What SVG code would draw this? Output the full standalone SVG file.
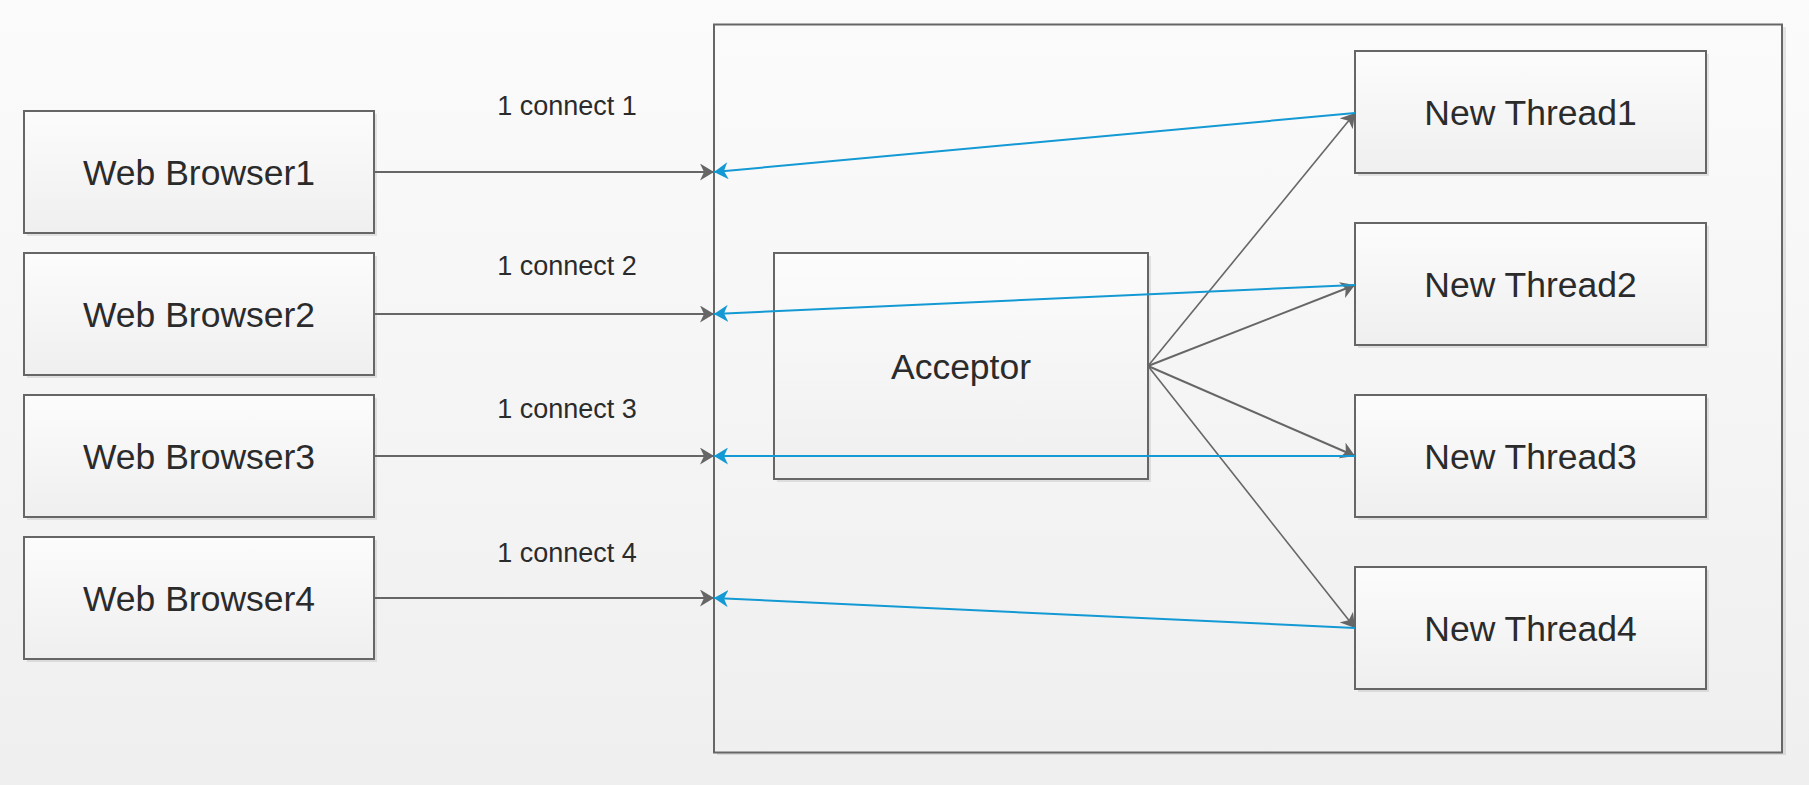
<svg xmlns="http://www.w3.org/2000/svg" width="1809" height="785" viewBox="0 0 1809 785">
  <defs>
    <linearGradient id="bg" x1="0" y1="0" x2="0" y2="1">
      <stop offset="0" stop-color="#fbfbfb"/>
      <stop offset="1" stop-color="#efefef"/>
    </linearGradient>
    <linearGradient id="boxfill" x1="0" y1="0" x2="0" y2="1">
      <stop offset="0" stop-color="#fcfcfc"/>
      <stop offset="1" stop-color="#efefef"/>
    </linearGradient>
    <marker id="ag" markerUnits="userSpaceOnUse" viewBox="0 0 14 17" refX="14" refY="8.5" markerWidth="14" markerHeight="17" orient="auto">
      <path d="M0,0 L14,8.5 L0,17 L4,8.5 Z" fill="#666666"/>
    </marker>
    <marker id="ab" markerUnits="userSpaceOnUse" viewBox="0 0 14 17" refX="14" refY="8.5" markerWidth="14" markerHeight="17" orient="auto">
      <path d="M0,0 L14,8.5 L0,17 L4,8.5 Z" fill="#1399d3"/>
    </marker>
  </defs>
  <style>
    .box { fill: url(#boxfill); stroke: #666666; stroke-width: 2; }
    .shadow { fill: #000000; opacity: 0.09; }
    .node { font-family: "Liberation Sans", Arial, sans-serif; font-size: 35.5px; fill: #2b2b2b; text-anchor: middle; }
    .lbl { font-family: "Liberation Sans", Arial, sans-serif; font-size: 27px; fill: #2b2b2b; text-anchor: middle; }
    .g { fill: none; stroke: #666666; stroke-width: 2; marker-end: url(#ag); }
    .gt { fill: none; stroke: #666666; stroke-width: 1.6; marker-end: url(#ag); }
    .b { fill: none; stroke: #1399d3; stroke-width: 2; marker-end: url(#ab); }
  </style>
  <rect x="0" y="0" width="1809" height="785" fill="url(#bg)"/>

  <g id="container">
    <rect class="shadow" x="717" y="27" width="1069" height="728"/>
    <rect class="box" x="714" y="24.5" width="1068" height="728" style="fill:url(#bg)"/>
  </g>

  <g id="browser1">
    <rect class="shadow" x="27" y="114" width="350" height="122"/>
    <rect class="box" x="24" y="111" width="350" height="122"/>
    <text class="node" x="199" y="185">Web Browser1</text>
  </g>
  <g id="browser2">
    <rect class="shadow" x="27" y="256" width="350" height="122"/>
    <rect class="box" x="24" y="253" width="350" height="122"/>
    <text class="node" x="199" y="327">Web Browser2</text>
  </g>
  <g id="browser3">
    <rect class="shadow" x="27" y="398" width="350" height="122"/>
    <rect class="box" x="24" y="395" width="350" height="122"/>
    <text class="node" x="199" y="469">Web Browser3</text>
  </g>
  <g id="browser4">
    <rect class="shadow" x="27" y="540" width="350" height="122"/>
    <rect class="box" x="24" y="537" width="350" height="122"/>
    <text class="node" x="199" y="611">Web Browser4</text>
  </g>

  <g id="acceptor">
    <rect class="shadow" x="777" y="256" width="374" height="226"/>
    <rect class="box" x="774" y="253" width="374" height="226"/>
    <text class="node" x="961" y="379">Acceptor</text>
  </g>

  <g id="thread1">
    <rect class="shadow" x="1358" y="54" width="351" height="122"/>
    <rect class="box" x="1355" y="51" width="351" height="122"/>
    <text class="node" x="1530.5" y="125">New Thread1</text>
  </g>
  <g id="thread2">
    <rect class="shadow" x="1358" y="226" width="351" height="122"/>
    <rect class="box" x="1355" y="223" width="351" height="122"/>
    <text class="node" x="1530.5" y="297">New Thread2</text>
  </g>
  <g id="thread3">
    <rect class="shadow" x="1358" y="398" width="351" height="122"/>
    <rect class="box" x="1355" y="395" width="351" height="122"/>
    <text class="node" x="1530.5" y="469">New Thread3</text>
  </g>
  <g id="thread4">
    <rect class="shadow" x="1358" y="570" width="351" height="122"/>
    <rect class="box" x="1355" y="567" width="351" height="122"/>
    <text class="node" x="1530.5" y="641">New Thread4</text>
  </g>

  <g id="connectors">
    <line class="g" x1="374" y1="172" x2="714" y2="172"/>
    <line class="g" x1="374" y1="314" x2="714" y2="314"/>
    <line class="g" x1="374" y1="456" x2="714" y2="456"/>
    <line class="g" x1="374" y1="598" x2="714" y2="598"/>

    <line class="gt" x1="1148" y1="366" x2="1355" y2="113"/>
    <line class="g" x1="1148" y1="366" x2="1355" y2="285"/>
    <line class="g" x1="1148" y1="366" x2="1355" y2="456"/>
    <line class="gt" x1="1148" y1="366" x2="1355" y2="628"/>

    <line class="b" x1="1355" y1="113" x2="714" y2="172"/>
    <line class="b" x1="1355" y1="285" x2="714" y2="314"/>
    <line class="b" x1="1355" y1="456" x2="714" y2="456"/>
    <line class="b" x1="1355" y1="628" x2="714" y2="598"/>

    <text class="lbl" x="567" y="115">1 connect 1</text>
    <text class="lbl" x="567" y="275">1 connect 2</text>
    <text class="lbl" x="567" y="418">1 connect 3</text>
    <text class="lbl" x="567" y="562">1 connect 4</text>
  </g>
</svg>
